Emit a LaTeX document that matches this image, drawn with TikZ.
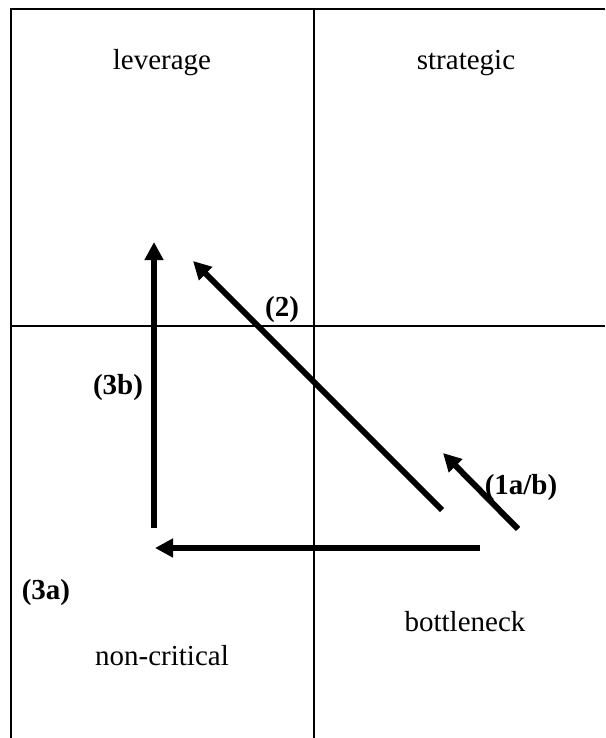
\documentclass[tikz,border=0pt]{standalone}
\usepackage{fontspec}
\setmainfont{Liberation Serif}
\usetikzlibrary{arrows.meta}

\begin{document}
\begin{tikzpicture}[x=1pt, y=-1pt,
    >={Triangle[length=18pt,width=18pt]},
    grid/.style={line width=2pt},
    move/.style={->, line width=6pt},
    cell/.style={anchor=base, inner sep=0pt, font=\fontsize{29}{34}\selectfont},
    tag/.style={anchor=base, inner sep=0pt, font=\fontsize{29}{34}\selectfont\bfseries}]
  \useasboundingbox (0,0) rectangle (605,738);
  % matrix lines
  \draw[grid] (605,9) -- (11,9) -- (11,738);
  \draw[grid] (314,9) -- (314,738);
  \draw[grid] (11,326) -- (605,326);
  % quadrant names
  \node[cell] (lev) at (162,70) {leverage};
  \node[cell] (str) at (466,70) {strategic};
  \node[cell] (bot) at (465,631) {bottleneck};
  \node[cell] (non) at (162,665) {non-critical};
  % arrow ends
  \coordinate (s1) at (518,529);
  \coordinate (e1) at (443,453);
  \coordinate (s2) at (442,510);
  \coordinate (e2) at (193,261);
  \coordinate (s3a) at (480,548);
  \coordinate (e3a) at (155,548);
  \coordinate (s3b) at (154,528);
  \coordinate (e3b) at (154,242);
  \draw[move] (s1) -- (e1);
  \draw[move] (s2) -- (e2);
  \draw[move] (s3a) -- (e3a);
  \draw[move] (s3b) -- (e3b);
  % step labels
  \node[tag] (t1) at (521,494) {(1a/b)};
  \node[tag] (t2) at (282,316) {(2)};
  \node[tag] (t3a) at (46,599) {(3a)};
  \node[tag] (t3b) at (118,394) {(3b)};
\end{tikzpicture}
\end{document}
